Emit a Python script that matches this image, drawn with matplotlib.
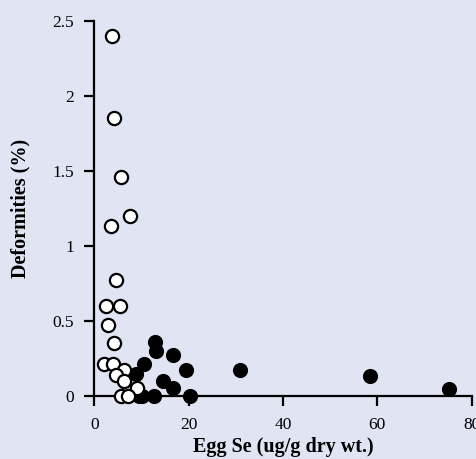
import matplotlib.pyplot as plt

# open circles: low-Se group
open_se = [3.75, 4.25, 5.7, 7.5, 3.5, 4.6, 2.5, 5.45, 3.0, 4.2, 2.05, 3.9,
           6.2, 4.6, 6.2, 9.0, 5.7, 7.05]
open_def = [2.40, 1.85, 1.46, 1.20, 1.13, 0.77, 0.60, 0.60, 0.47, 0.35, 0.21, 0.21,
            0.17, 0.14, 0.10, 0.05, 0.0, 0.0]

# filled circles: high-Se group
filled_se = [12.9, 13.1, 10.5, 16.6, 8.9, 19.4, 14.5, 16.6, 9.4, 10.1, 12.6, 20.2,
             30.9, 58.4, 75.2]
filled_def = [0.355, 0.30, 0.21, 0.27, 0.145, 0.17, 0.10, 0.05, 0.0, 0.0, 0.0, 0.0,
              0.17, 0.13, 0.045]

x_ticks = [0, 20, 40, 60, 80]
y_ticks = [0, 0.5, 1, 1.5, 2, 2.5]
y_labels = ["0", "0.5", "1", "1.5", "2", "2.5"]

bg = "#e1e4f2"
plt.rcParams['font.family'] = ['Liberation Serif', 'DejaVu Serif']

fig = plt.figure(figsize=(4.76, 4.59), dpi=100, facecolor=bg)
ax = fig.add_axes([0.198, 0.138, 0.793, 0.817], facecolor=bg)

ax.plot(filled_se, filled_def, 'o', ms=9.5, mfc='black', mec='black', mew=1.4,
        clip_on=False, zorder=3)
ax.plot(open_se, open_def, 'o', ms=9.5, mfc='white', mec='black', mew=1.6,
        clip_on=False, zorder=4)

ax.set_xlim(0, 80)
ax.set_ylim(0, 2.5)
ax.set_xticks(x_ticks)
ax.set_yticks(y_ticks)
ax.set_yticklabels(y_labels)

for s in ['top', 'right']:
    ax.spines[s].set_visible(False)
for s in ['left', 'bottom']:
    ax.spines[s].set_linewidth(1.6)
ax.tick_params(direction='out', length=7.5, width=1.6, labelsize=12.5)
ax.tick_params(axis='y', pad=7)
ax.tick_params(axis='x', pad=8)

ax.set_xlabel("Egg Se (ug/g dry wt.)", fontsize=14.5, fontweight='bold', labelpad=3)
ax.set_ylabel("Deformities (%)", fontsize=14.5, fontweight='bold', labelpad=16)

fig.savefig("out.png", dpi=100, facecolor=bg)
